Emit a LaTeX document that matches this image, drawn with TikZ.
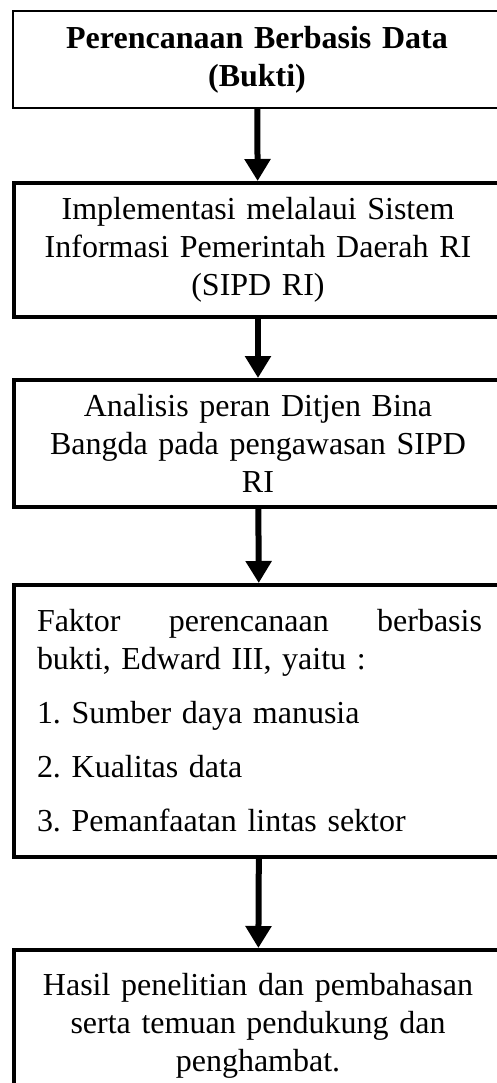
\documentclass[tikz,border=0pt]{standalone}
\usepackage{fontspec}
\setmainfont{Liberation Serif}
\usetikzlibrary{arrows.meta}
\frenchspacing
\tikzset{
	flowbox/.style={draw, line width=2pt, anchor=north west, minimum width=244pt,
		text width=228pt, inner xsep=8pt, align=center, font=\fontsize{16}{19}\selectfont},
	flowarrow/.style={line width=3pt, -{Triangle[width=12.5pt, length=11pt]}}
}
\begin{document}
\begin{tikzpicture}[x=0.5pt, y=-0.5pt]
		\useasboundingbox (0, 0) rectangle (497, 1083);

		\node[flowbox, line width=1pt, minimum height=48.5pt, font=\fontsize{16}{19}\selectfont\bfseries] (b1) at (12, 10) {Perencanaan Berbasis Data\\(Bukti)};
		\node[flowbox, minimum height=67pt] (b2) at (12, 181) {Implementasi melalaui Sistem\\Informasi Pemerintah Daerah RI\\(SIPD RI)};
		\node[flowbox, minimum height=63.5pt] (b3) at (12, 378) {Analisis peran Ditjen Bina\\Bangda pada pengawasan SIPD\\RI};
		\node[flowbox, minimum height=136pt, align=left, inner xsep=11.5pt, text width=222.5pt] (b4) at (12, 583) {Faktor\hfill perencanaan\hfill berbasis\\bukti, Edward III, yaitu :\\[8pt]1. Sumber daya manusia\\[8pt]2. Kualitas data\\[8pt]3. Pemanfaatan lintas sektor};
		\node[flowbox, minimum height=76pt] (b5) at (12, 948) {Hasil penelitian dan pembahasan\\serta temuan pendukung dan\\penghambat.};

		\draw[flowarrow] (b1) -- (b2);
		\draw[flowarrow] (b2) -- (b3);
		\draw[flowarrow] (b3) -- (b4);
		\draw[flowarrow] (b4) -- (b5);
	\end{tikzpicture}
\end{document}
